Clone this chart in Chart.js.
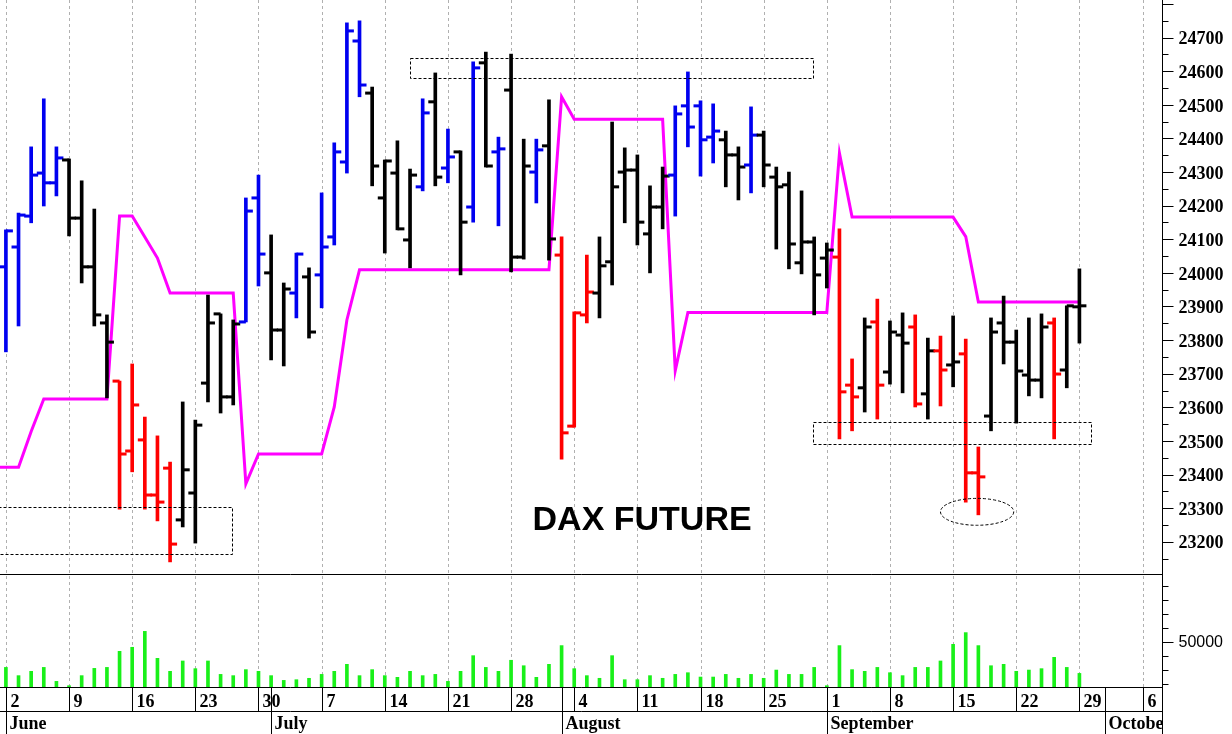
<!DOCTYPE html>
<html lang="en">
<head>
<meta charset="UTF-8">
<title>DAX FUTURE</title>
<script src="https://cdn.jsdelivr.net/npm/chart.js"></script>
<style>
  html, body { margin:0; padding:0; background:#fff; }
  #wrap { width:1232px; height:734px; }
</style>
</head>
<body>
<div id="wrap"><canvas id="dax" width="1232" height="734"></canvas></div>
<script>
// trading days shown on the axis (data runs through 09-29, the rest is empty space)
const dates = [
  '06-02','06-03','06-04','06-05','06-06','06-09','06-10','06-11','06-12','06-13',
  '06-16','06-17','06-18','06-19','06-20','06-23','06-24','06-25','06-26','06-27','06-30',
  '07-01','07-02','07-03','07-04','07-07','07-08','07-09','07-10','07-11','07-14',
  '07-15','07-16','07-17','07-18','07-21','07-22','07-23','07-24','07-25','07-28',
  '07-29','07-30','07-31',
  '08-01','08-04','08-05','08-06','08-07','08-08','08-11','08-12','08-13','08-14',
  '08-15','08-18','08-19','08-20','08-21','08-22','08-25','08-26','08-27','08-28','08-29',
  '09-01','09-02','09-03','09-04','09-05','09-08','09-09','09-10','09-11','09-12',
  '09-15','09-16','09-17','09-18','09-19','09-22','09-23','09-24','09-25','09-26',
  '09-29','09-30','10-01','10-02','10-03','10-06'
];
const monthNames = ['January','February','March','April','May','June','July','August','September','October','November','December'];

const opens = [
  24018,24077,24169,24297,24268,24336,24163,24018,23851,23678,
  23470,23503,23339,23419,23265,23345,23672,23878,23631,23854,
  24223,24000,23830,23940,23988,23994,24107,24330,24690,24535,
  24223,24297,24098,24256,24509,24312,24360,24196,24625,24360,
  24544,24047,24300,24378,24053,23544,23875,23940,24033,24300,
  24306,24116,24196,24291,24497,24497,24404,24396,24351,24321,
  24410,24285,24262,24030,24092,24044,24047,23666,23658,23854,
  23705,23815,23839,23640,23768,23726,23759,23405,23574,23851,
  23794,23696,23681,23851,23711,23899
];
const highs = [
  24128,24178,24375,24518,24375,24339,24274,24190,23875,23678,
  23729,23571,23515,23437,23616,23562,23934,23878,23860,24223,
  24291,24113,23970,24059,24015,24238,24387,24744,24750,24553,
  24336,24393,24309,24518,24595,24428,24363,24628,24657,24404,
  24651,24398,24398,24515,24107,23884,24053,24107,24449,24372,
  24351,24259,24315,24497,24598,24512,24503,24422,24375,24494,
  24422,24315,24300,24244,24107,24089,24131,23744,23866,23922,
  23857,23881,23875,23806,23812,23872,23803,23482,23866,23931,
  23830,23866,23878,23866,23902,24012
];
const lows = [
  23765,23842,24149,24199,24229,24110,23970,23842,23628,23297,
  23408,23297,23262,23140,23244,23196,23616,23583,23607,23854,
  23961,23741,23723,23866,23806,23896,24083,24297,24524,24259,
  24059,24128,24015,24244,24259,24268,23994,24151,24315,24140,
  24003,24041,24208,24038,23446,23541,23851,23866,23964,24149,
  24083,24000,24131,24169,24375,24288,24327,24256,24217,24238,
  24256,24071,24012,23997,23875,23955,23506,23530,23586,23565,
  23669,23643,23601,23565,23604,23661,23318,23280,23530,23729,
  23553,23634,23628,23506,23658,23791
];
const closes = [
  24125,24172,24291,24268,24342,24163,24018,23875,23794,23461,
  23607,23339,23318,23193,23414,23547,23851,23631,23848,24184,
  24056,23830,23952,24056,23824,24077,24360,24720,24559,24318,
  24333,24131,24291,24476,24285,24345,24151,24610,24318,24369,
  24047,24318,24366,24101,23524,23881,23943,24021,24256,24306,
  24151,24196,24288,24473,24434,24396,24422,24351,24315,24410,
  24321,24256,24086,24092,23994,24068,23646,23631,23839,23666,
  23824,23791,23610,23768,23711,23735,23405,23393,23824,23794,
  23708,23681,23839,23699,23902,23902
];
// 1 = up trend, 0 = neutral, -1 = down trend
const trend = [
  1,1,1,1,1, 0,0,0,0, -1,-1,-1,-1,-1, 0,0,0,0,0, 1,1, 0,0, 1, 0, 1,1,1,1,
  0,0,0,0, 1, 0, 1, 0, 1, 0, 1, 0,0, 1, 0, -1,-1,-1, 0,0,0,0,0,0, 1,1,1,1,
  0,0, 1, 0,0,0,0,0,0, -1,-1, 0, -1, 0,0, -1, 0, -1, 0, -1,-1, 0,0,0,0,0, -1, 0,0
];
const stopPrev = 23422;
const stopLine = [
  23422,23422,23528,23625,23625,23625,23625,23625,23625,24169,
  24169,24107,24044,23940,23940,23940,23940,23940,23940,23372,
  23461,23461,23461,23461,23461,23461,23601,23860,24009,24009,
  24009,24009,24009,24009,24009,24009,24009,24009,24009,24009,
  24009,24009,24009,24009,24524,24457,24457,24457,24457,24457,
  24457,24457,24457,23709,23882,23882,23882,23882,23882,23882,
  23882,23882,23882,23882,23882,23882,24356,24166,24166,24166,
  24166,24166,24166,24166,24166,24166,24108,23913,23913,23913,
  23913,23913,23913,23913,23913,23913
];
const volume = [
  31600,25700,28800,31600,21600,18500,25700,30900,31600,43100,
  46000,57400,38100,28800,36200,30700,36200,26600,25700,30000,
  28800,25700,22300,22800,23800,26600,28800,33800,25700,30000,
  25700,24500,28800,25700,26600,21600,28800,40000,31600,28800,
  36700,32800,24500,33800,47200,30700,25700,23800,40000,22800,
  22800,25700,23800,26600,27800,24700,24700,26600,23800,26600,
  23800,29700,26600,26600,31600,18500,47200,30000,28800,31600,
  27800,25700,31600,31600,36200,48100,56500,47200,32800,33800,
  28800,29700,30700,38800,31600,27300
];
const priceTicks = [23200,23300,23400,23500,23600,23700,23800,23900,24000,24100,24200,24300,24400,24500,24600,24700];
const volumeTicks = [50000];

// dotted marker boxes [fromDay, toDay, lowPrice, highPrice] and the circled low
const zones = [[-1, 17.9, 23163, 23304], [32.0, 63.9, 24579, 24639], [63.9, 85.9, 23491, 23557]];
const circled = [76.9, 23289, 2.9, 40];

const COLORS = { '1': '#0000f0', '0': '#000000', '-1': '#ff0000' };
const SERIF = '"Liberation Serif", "DejaVu Serif", serif';

// panel split: price pane on top, volume pane below (pixels of the plot area)
const PRICE_H = 574, VOL_H = 113;
const priceTop = 24812, priceBottom = 23104;
const volBottom = 17570, volTop = 98460;
const yMin = priceBottom - (priceTop - priceBottom) * VOL_H / PRICE_H;
const yvMax = volBottom + (volTop - volBottom) * (PRICE_H + VOL_H) / VOL_H;

const parseDay = s => { const [m, d] = s.split('-').map(Number); return { m, d, dow: new Date(2025, m - 1, d).getDay() }; };

const overlay = {
  id: 'overlay',
  beforeDatasetsDraw(chart) {
    const { ctx, chartArea: a, scales: { x } } = chart;
    ctx.save();
    ctx.strokeStyle = '#b0b0b0';
    ctx.lineWidth = 1;
    ctx.setLineDash([3, 3]);
    dates.forEach((s, i) => {
      if (parseDay(s).dow !== 1) return;
      const px = Math.round(x.getPixelForValue(i)) + 0.5;
      ctx.beginPath(); ctx.moveTo(px, a.top); ctx.lineTo(px, a.bottom); ctx.stroke();
    });
    ctx.restore();
  },
  afterDatasetsDraw(chart) {
    const { ctx, chartArea: a, scales: { x, y } } = chart;
    ctx.save();
    ctx.beginPath(); ctx.rect(a.left, a.top, a.right - a.left, a.bottom - a.top); ctx.clip();
    // open / close ticks
    opens.forEach((o, i) => {
      const px = x.getPixelForValue(i);
      ctx.fillStyle = COLORS[trend[i]];
      ctx.fillRect(px - 7, y.getPixelForValue(o) - 1.5, 7, 3);
      ctx.fillRect(px, y.getPixelForValue(closes[i]) - 1.5, 7, 3);
    });
    // dotted boxes
    ctx.strokeStyle = '#000';
    ctx.lineWidth = 1;
    ctx.setLineDash([3, 2]);
    zones.forEach(([d0, d1, p0, p1]) => {
      const l = Math.round(x.getPixelForValue(d0)) + 0.5, r = Math.round(x.getPixelForValue(d1)) + 0.5;
      const t = Math.round(y.getPixelForValue(p1)) + 0.5, b = Math.round(y.getPixelForValue(p0)) + 0.5;
      ctx.strokeRect(l, t, r - l, b - t);
    });
    const [cd, cp, rd, rp] = circled;
    const cx = x.getPixelForValue(cd), cy = y.getPixelForValue(cp);
    ctx.beginPath();
    ctx.ellipse(cx, cy, x.getPixelForValue(cd + rd) - cx, cy - y.getPixelForValue(cp + rp), 0, 0, Math.PI * 2);
    ctx.stroke();
    ctx.setLineDash([]);
    // title
    ctx.fillStyle = '#000';
    ctx.font = 'bold 34px "Liberation Sans", Arial, sans-serif';
    ctx.textBaseline = 'alphabetic';
    ctx.fillText('DAX FUTURE', x.getPixelForValue(41.7), y.getPixelForValue(23235));
    ctx.restore();
  },
  afterDraw(chart) {
    const { ctx, chartArea: a, scales: { x, y, yv } } = chart;
    const H = chart.height, R = Math.round(a.right) + 0.5;
    ctx.save();
    ctx.strokeStyle = '#000';
    ctx.fillStyle = '#000';
    ctx.lineWidth = 1;
    // pane divider and right axis line
    const split = Math.round(a.top + PRICE_H) + 0.5;
    ctx.beginPath();
    ctx.moveTo(a.left, split); ctx.lineTo(R, split);
    ctx.moveTo(R, 0); ctx.lineTo(R, H);
    ctx.stroke();
    // price axis ticks
    ctx.beginPath();
    for (let v = 23150; v <= 24800; v += 50) {
      const py = Math.round(y.getPixelForValue(v)) + 0.5;
      ctx.moveTo(R, py); ctx.lineTo(R + (v % 100 === 0 ? 11 : 6), py);
    }
    for (let v = 20000; v <= 90000; v += 10000) {
      const py = Math.round(yv.getPixelForValue(v)) + 0.5;
      ctx.moveTo(R, py); ctx.lineTo(R + (volumeTicks.includes(v) ? 11 : 6), py);
    }
    ctx.stroke();
    ctx.textAlign = 'left';
    ctx.textBaseline = 'middle';
    ctx.font = 'bold 18px ' + SERIF;
    priceTicks.forEach(v => ctx.fillText(String(v), R + 16, y.getPixelForValue(v) + 2));
    ctx.font = '16px "Liberation Sans", Arial, sans-serif';
    volumeTicks.forEach(v => ctx.fillText(String(v), R + 16, yv.getPixelForValue(v) + 1));

    // date axis
    const top = Math.round(a.bottom) + 0.5, mid = top + 24;
    ctx.beginPath();
    ctx.moveTo(0, top); ctx.lineTo(R, top);
    ctx.moveTo(0, mid); ctx.lineTo(R, mid);
    ctx.stroke();
    ctx.beginPath(); ctx.rect(0, top, R, H - top); ctx.clip();
    ctx.textBaseline = 'alphabetic';
    ctx.font = 'bold 18px ' + SERIF;
    let prevMonth = null;
    dates.forEach((s, i) => {
      const { m, d, dow } = parseDay(s);
      const px = Math.round(x.getPixelForValue(i)) + 0.5;
      if (dow === 1) {
        ctx.beginPath(); ctx.moveTo(px, top); ctx.lineTo(px, mid); ctx.stroke();
        ctx.fillText(String(d), px + 4, top + 19);
      }
      if (m !== prevMonth) {
        ctx.beginPath(); ctx.moveTo(px, top); ctx.lineTo(px, H); ctx.stroke();
        ctx.fillText(monthNames[m - 1], px + 3, H - 5);
        prevMonth = m;
      }
    });
    ctx.restore();
  }
};

const ctx = document.getElementById('dax').getContext('2d');
new Chart(ctx, {
  type: 'bar',
  data: {
    datasets: [
      {
        label: 'range',
        data: highs.map((h, i) => ({ x: i, y: [lows[i], h] })),
        backgroundColor: trend.map(t => COLORS[t]),
        borderWidth: 0,
        barThickness: 3,
        grouped: false,
        yAxisID: 'y',
        order: 0
      },
      {
        type: 'line',
        label: 'stop',
        data: [{ x: -1, y: stopPrev }].concat(stopLine.map((v, i) => ({ x: i, y: v }))),
        borderColor: '#ff00ff',
        borderWidth: 3,
        pointRadius: 0,
        tension: 0,
        yAxisID: 'y',
        order: 1
      },
      {
        label: 'volume',
        data: volume.map((v, i) => ({ x: i, y: v })),
        backgroundColor: '#19f019',
        borderWidth: 0,
        barThickness: 3,
        grouped: false,
        yAxisID: 'yv',
        order: 2
      }
    ]
  },
  options: {
    responsive: false,
    animation: false,
    layout: { padding: { left: 0, right: 70, top: 0, bottom: 47 } },
    scales: {
      x: { type: 'linear', display: false, offset: false, min: -0.467, max: 91.54 },
      y: { display: false, min: yMin, max: priceTop },
      yv: { display: false, min: volBottom, max: yvMax }
    },
    plugins: { legend: { display: false }, tooltip: { enabled: false } }
  },
  plugins: [overlay]
});
</script>
</body>
</html>
